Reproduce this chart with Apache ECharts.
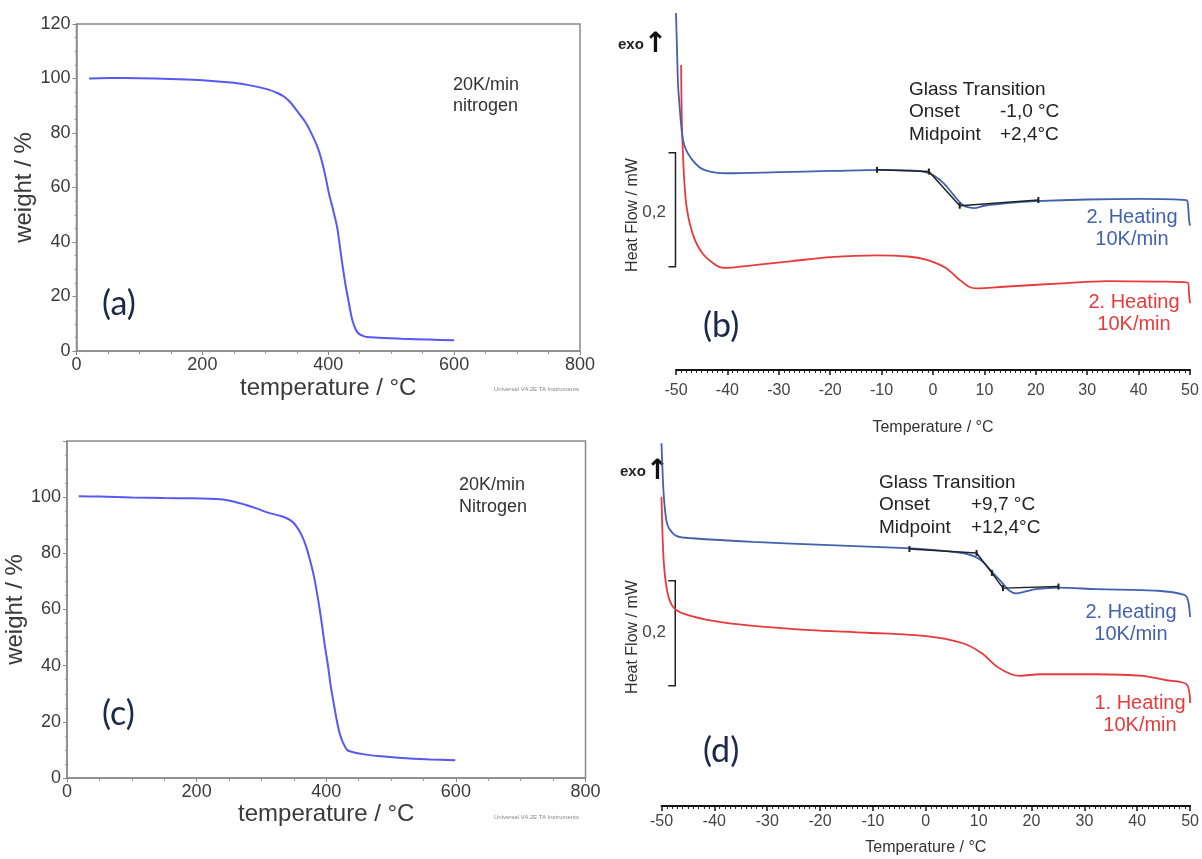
<!DOCTYPE html>
<html>
<head>
<meta charset="utf-8">
<script src="https://cdn.jsdelivr.net/npm/echarts@6/dist/echarts.min.js"></script>
<style>
  html, body { margin: 0; padding: 0; background: #fff; }
  #chart { width: 1202px; height: 859px; }
</style>
</head>
<body>
<div id="chart"></div>
<script>
// TGA (a): temperature / weight
const tgaA_temp = [20, 50, 100, 150, 200, 250, 280, 304, 320, 330, 340, 353, 365, 377, 385, 392, 397, 401, 408, 414, 419, 423, 428, 432, 437, 441, 445, 450, 456, 462, 480, 517, 560, 600];
const tgaA_weight = [100.0, 100.2, 100.1, 99.8, 99.4, 98.4, 97.3, 96.0, 94.6, 93.3, 91.2, 87.3, 83.5, 78.0, 73.5, 67.7, 62.5, 57.9, 51.5, 45.6, 37.5, 30.9, 23.5, 18.6, 12.5, 9.4, 7.3, 6.1, 5.5, 5.1, 4.9, 4.5, 4.2, 3.9];

// TGA (c)
const tgaC_temp = [18, 50, 100, 150, 192, 220, 245, 260, 275, 290, 310, 330, 340, 348, 354, 362, 369, 375, 381, 386, 390, 394, 398, 403, 407, 412, 416, 420, 425, 430, 434, 445, 457, 480, 516, 560, 599];
const tgaC_weight = [100.3, 100.2, 99.9, 99.7, 99.6, 99.4, 99.0, 98.3, 97.3, 96.2, 94.5, 93.3, 92.4, 91.2, 89.6, 86.5, 82.4, 77.5, 71.8, 65.5, 59.9, 53.5, 46.9, 39.5, 32.6, 26.0, 20.8, 16.5, 13.0, 10.7, 9.7, 9.0, 8.5, 7.8, 7.1, 6.6, 6.3];

// DSC (b), heat flow in mW (relative offset)
const dscB_blue_T = [-50, -49.8, -49.6, -49.4, -49.0, -48.65, -48, -46.8, -45.5, -44.5, -42.3, -40, -30, -20, -10, -5, -2, 0, 2, 4, 5, 6, 7, 8, 10, 15, 20, 30, 40, 49.3, 49.6, 49.8, 50];
const dscB_blue_HF = [0.626, 0.56, 0.50, 0.474, 0.43, 0.404, 0.385, 0.368, 0.356, 0.351, 0.346, 0.345, 0.347, 0.349, 0.351, 0.350, 0.348, 0.342, 0.328, 0.307, 0.296, 0.288, 0.285, 0.284, 0.288, 0.293, 0.296, 0.299, 0.300, 0.298, 0.290, 0.265, 0.253];
const dscB_red_T = [-49.0, -48.8, -48.1, -46.8, -44.9, -42.3, -40.8, -34.8, -27.4, -19.9, -10.9, -4.9, -1.2, 2.5, 4.8, 7, 8.5, 13.8, 25, 33.9, 43.6, 49.6, 49.8, 50];
const dscB_red_HF = [0.535, 0.416, 0.298, 0.240, 0.205, 0.184, 0.179, 0.184, 0.191, 0.198, 0.201, 0.199, 0.193, 0.179, 0.161, 0.146, 0.143, 0.146, 0.152, 0.156, 0.155, 0.153, 0.135, 0.117];
const dscB_tan_T = [-10.9, -0.8, 5.2, 20.5];
const dscB_tan_HF = [0.351, 0.348, 0.288, 0.298];
const dscB_scale = [0.381, 0.181];

// DSC (d)
const dscD_blue_T = [-50, -49.6, -49.1, -48.6, -47.1, -44.2, -32.7, -18.2, -3.8, 3.4, 7.8, 9.9, 11.4, 12.8, 14.3, 15.7, 17.1, 18.6, 20.8, 25.1, 32.3, 43.9, 48.9, 49.6, 50];
const dscD_blue_HF = [0.691, 0.596, 0.545, 0.529, 0.514, 0.510, 0.503, 0.497, 0.491, 0.486, 0.480, 0.472, 0.459, 0.443, 0.427, 0.411, 0.405, 0.408, 0.413, 0.416, 0.413, 0.410, 0.402, 0.392, 0.360];
const dscD_red_T = [-50, -49.6, -48.9, -47.8, -45.7, -39.9, -32.7, -21.8, -11, 0.4, 7, 10.6, 13.5, 16.4, 17.9, 21.5, 32.3, 41, 45.3, 49.3, 50];
const dscD_red_HF = [0.589, 0.469, 0.408, 0.379, 0.366, 0.352, 0.343, 0.335, 0.330, 0.323, 0.310, 0.291, 0.265, 0.250, 0.248, 0.251, 0.251, 0.248, 0.240, 0.232, 0.196];
const dscD_tan_T = [-3.1, 9.6, 12.5, 14.6, 25.1];
const dscD_tan_HF = [0.4895, 0.482, 0.444, 0.415, 0.418];
const dscD_scale = [0.429, 0.229];

const pairs = (xs, ys) => xs.map((x, i) => [x, ys[i]]);

const FONT = "'Liberation Sans', Arial, sans-serif";
const TGA_BLUE = "#5858f2";
const DSC_BLUE = "#4262b0";
const DSC_RED = "#e83a3a";

function txt(x, y, text, size, color, extra) {
  return Object.assign({
    type: "text", x: x, y: y, silent: true,
    style: Object.assign({
      text: text, fill: color || "#333",
      font: size + "px " + FONT,
      textVerticalAlign: "middle"
    }, (extra && extra.style) || {})
  }, extra && extra.rotation ? { rotation: extra.rotation } : {});
}

function panelLabel(x, y, text) {
  return {
    type: "text", x: x, y: y, silent: true,
    style: {
      text: text, fill: "#1c2848", font: "34px Lato, 'Open Sans', sans-serif",
      textVerticalAlign: "middle",
      textShadowColor: "#f0a030", textShadowOffsetX: -1.5, textShadowBlur: 0
    }
  };
}

function exo(x, y) {
  return {
    type: "text", x: x, y: y, silent: true,
    style: {
      text: "{e|exo}{a|↑}",
      textVerticalAlign: "middle",
      rich: {
        e: { font: "bold 15px " + FONT, fill: "#222" },
        a: { font: "bold 28px 'DejaVu Sans', sans-serif", fill: "#111" }
      }
    }
  };
}

function tgaXAxis(grid, name, gap) {
  return {
    type: "value", gridIndex: grid, min: 0, max: 800, interval: 200,
    axisLine: { onZero: false, lineStyle: { color: "#8a8a8a", width: 1.5 } },
    axisTick: { length: 4, lineStyle: { color: "#8a8a8a" } },
    minorTick: { show: true, splitNumber: 4, length: 3, lineStyle: { color: "#999" } },
    splitLine: { show: false },
    axisLabel: { color: "#3a3a3a", fontSize: 18, fontFamily: FONT, margin: 5 },
    name: name, nameLocation: "middle", nameGap: gap,
    nameTextStyle: { color: "#3a3a3a", fontSize: 24, fontFamily: FONT }
  };
}

function tgaYAxis(grid, gap, showMax) {
  return {
    type: "value", gridIndex: grid, min: 0, max: 120, interval: 20,
    axisLine: { onZero: false, lineStyle: { color: "#8a8a8a", width: 1.5 } },
    axisTick: { length: 4, lineStyle: { color: "#8a8a8a" } },
    minorTick: { show: true, splitNumber: 4, length: 2, lineStyle: { color: "#999" } },
    splitLine: { show: false },
    axisLabel: { color: "#3a3a3a", fontSize: 18, fontFamily: FONT, margin: 6, showMaxLabel: showMax },
    name: "weight / %", nameLocation: "middle", nameGap: gap, nameRotate: 90,
    nameTextStyle: { color: "#3a3a3a", fontSize: 24, fontFamily: FONT }
  };
}

function dscXAxis(grid, margin, gap) {
  return {
    type: "value", gridIndex: grid, min: -50, max: 50, interval: 10,
    axisLine: { onZero: false, lineStyle: { color: "#111", width: 2 } },
    axisTick: { length: 5, lineStyle: { color: "#111", width: 1.5 } },
    minorTick: { show: true, splitNumber: 10, length: 3, lineStyle: { color: "#222" } },
    splitLine: { show: false },
    axisLabel: { color: "#444", fontSize: 16, fontFamily: FONT, margin: margin },
    name: "Temperature / °C", nameLocation: "middle", nameGap: gap,
    nameTextStyle: { color: "#333", fontSize: 16, fontFamily: FONT }
  };
}

function dscYAxis(grid, max) {
  return { type: "value", gridIndex: grid, min: 0, max: max, show: false };
}

function curve(xi, yi, data, color, width) {
  return {
    type: "line", xAxisIndex: xi, yAxisIndex: yi, data: data,
    showSymbol: false, symbol: "none", smooth: 0.3,
    lineStyle: { color: color, width: width }, z: 3
  };
}

function tangent(xi, yi, data) {
  return {
    type: "line", xAxisIndex: xi, yAxisIndex: yi, data: data,
    symbol: "rect", symbolSize: [2, 6], showSymbol: true,
    itemStyle: { color: "#222" },
    lineStyle: { color: "#222", width: 1.5 }, z: 4
  };
}

const chart = echarts.init(document.getElementById("chart"), null, { renderer: "canvas" });

chart.setOption({
  animation: false,
  backgroundColor: "#fff",
  grid: [
    { left: 76.5, top: 24, width: 503.5, height: 327, show: true, borderColor: "#8a8a8a", borderWidth: 1.5 },
    { left: 676, top: 5, width: 514, height: 365 },
    { left: 67, top: 441, width: 518.5, height: 337, show: true, borderColor: "#8a8a8a", borderWidth: 1.5 },
    { left: 661.5, top: 438.5, width: 532.5, height: 367.5 }
  ],
  xAxis: [
    tgaXAxis(0, "temperature / °C", 25),
    dscXAxis(1, 13, 50),
    tgaXAxis(2, "temperature / °C", 23),
    dscXAxis(3, 8, 34)
  ],
  yAxis: [
    tgaYAxis(0, 36, true),
    dscYAxis(1, 0.64),
    tgaYAxis(2, 34, false),
    dscYAxis(3, 0.7)
  ],
  series: [
    curve(0, 0, pairs(tgaA_temp, tgaA_weight), TGA_BLUE, 2),
    curve(2, 2, pairs(tgaC_temp, tgaC_weight), TGA_BLUE, 2),

    curve(1, 1, pairs(dscB_red_T, dscB_red_HF), DSC_RED, 1.8),
    curve(1, 1, pairs(dscB_blue_T, dscB_blue_HF), DSC_BLUE, 1.8),
    tangent(1, 1, pairs(dscB_tan_T, dscB_tan_HF)),

    curve(3, 3, pairs(dscD_red_T, dscD_red_HF), DSC_RED, 1.8),
    curve(3, 3, pairs(dscD_blue_T, dscD_blue_HF), DSC_BLUE, 1.8),
    tangent(3, 3, pairs(dscD_tan_T, dscD_tan_HF))
  ]
});

// 0.2 mW scale brackets, placed through the panel's own scales
function bracket(grid, xAt, span) {
  const top = chart.convertToPixel({ gridIndex: grid }, [xAt, span[0]]);
  const bot = chart.convertToPixel({ gridIndex: grid }, [xAt, span[1]]);
  return {
    type: "polyline", silent: true, z: 2,
    shape: { points: [[top[0] - 7, top[1]], [top[0], top[1]], [bot[0], bot[1]], [bot[0] - 7, bot[1]]] },
    style: { stroke: "#222", lineWidth: 1.5, fill: null }
  };
}

chart.setOption({
  graphic: [
    bracket(1, -50.1, dscB_scale),
    bracket(3, -47.4, dscD_scale),
    // (a)
    txt(453, 85, "20K/min", 18, "#333"),
    txt(453, 106, "nitrogen", 18, "#333"),
    txt(494, 389, "Universal V4.2E TA Instruments", 6, "#888"),
    panelLabel(102, 304, "(a)"),
    // (c)
    txt(459, 485, "20K/min", 18, "#333"),
    txt(459, 507, "Nitrogen", 18, "#333"),
    txt(494, 817, "Universal V4.2E TA Instruments", 6, "#888"),
    panelLabel(102, 714, "(c)"),
    // (b)
    exo(618, 45),
    txt(909, 90, "Glass Transition", 19, "#222"),
    txt(909, 112, "Onset", 19, "#222"),
    txt(1000, 112, "-1,0 °C", 19, "#222"),
    txt(909, 135, "Midpoint", 19, "#222"),
    txt(1000, 135, "+2,4°C", 19, "#222"),
    txt(1132, 217, "2. Heating", 20, DSC_BLUE, { style: { textAlign: "center" } }),
    txt(1132, 239, "10K/min", 20, DSC_BLUE, { style: { textAlign: "center" } }),
    txt(1134, 302, "2. Heating", 20, DSC_RED, { style: { textAlign: "center" } }),
    txt(1134, 324, "10K/min", 20, DSC_RED, { style: { textAlign: "center" } }),
    txt(666, 212, "0,2", 17, "#444", { style: { textAlign: "right" } }),
    txt(633, 215, "Heat Flow / mW", 16, "#333", { rotation: Math.PI / 2, style: { textAlign: "center" } }),
    panelLabel(703, 326, "(b)"),
    // (d)
    exo(620, 472),
    txt(879, 483, "Glass Transition", 19, "#222"),
    txt(879, 505, "Onset", 19, "#222"),
    txt(971, 505, "+9,7 °C", 19, "#222"),
    txt(879, 528, "Midpoint", 19, "#222"),
    txt(971, 528, "+12,4°C", 19, "#222"),
    txt(1131, 612, "2. Heating", 20, DSC_BLUE, { style: { textAlign: "center" } }),
    txt(1131, 634, "10K/min", 20, DSC_BLUE, { style: { textAlign: "center" } }),
    txt(1140, 703, "1. Heating", 20, DSC_RED, { style: { textAlign: "center" } }),
    txt(1140, 725, "10K/min", 20, DSC_RED, { style: { textAlign: "center" } }),
    txt(666, 632, "0,2", 17, "#444", { style: { textAlign: "right" } }),
    txt(633, 637, "Heat Flow / mW", 16, "#333", { rotation: Math.PI / 2, style: { textAlign: "center" } }),
    panelLabel(703, 751, "(d)")
  ]
});
</script>
</body>
</html>
